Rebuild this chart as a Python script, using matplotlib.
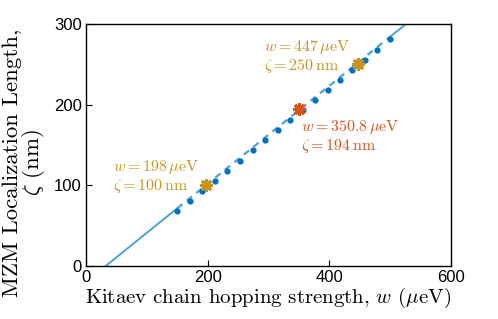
import matplotlib
matplotlib.use('Agg')
import matplotlib.pyplot as plt

plt.rcParams['mathtext.fontset'] = 'cm'
plt.rcParams['axes.unicode_minus'] = False

# data points (w in ueV, zeta in nm)
w_pts = [150, 171, 191, 212, 232, 253, 274, 294, 315, 335, 356, 376, 397, 418, 438, 459, 479, 500]
zeta_pts = [68, 80.5, 93, 105.5, 118, 130.5, 143, 155.5, 168, 180.5, 193, 205.5, 218, 230.5, 243, 255.5, 268, 281]

# linear fit line, split into solid / dashed / solid
fit_w = [33, 150, 500, 560]
fit_zeta = [0, 71.2, 284.2, 320.7]

# highlighted points
mark_w = [198, 350.8, 447]
mark_zeta = [100, 194, 250]

blue_dot = '#0072BD'
blue_line = '#4DA3D8'
gold = '#C8961E'
red = '#D95319'

fig = plt.figure(figsize=(4.98, 3.19), dpi=100)
ax = fig.add_axes([0.1727, 0.1672, 0.7329, 0.7576])

ax.plot(fit_w[0:2], fit_zeta[0:2], '-', color=blue_line, lw=1.4)
ax.plot(fit_w[1:3], fit_zeta[1:3], '--', color=blue_line, lw=1.6, dashes=(3, 2.5))
ax.plot(fit_w[2:4], fit_zeta[2:4], '-', color=blue_line, lw=1.4)
ax.plot(w_pts, zeta_pts, 'o', color=blue_dot, ms=4.5, mew=0)

ast = (8, 2, 0)
ax.plot(mark_w[0], mark_zeta[0], marker=ast, color=gold, ms=9, mew=2.2)
ax.plot(mark_w[2], mark_zeta[2], marker=ast, color=gold, ms=9, mew=2.2)
ax.plot(mark_w[1], mark_zeta[1], marker=ast, color=red, ms=9, mew=2.2)

ax.text(44, 111, r'$w = 198\,\mu\mathrm{eV}$' + '\n' + r'$\zeta = 100\,\mathrm{nm}$',
        color=gold, fontsize=11.5, va='center', ha='left', linespacing=1.1)
ax.text(292, 260, r'$w = 447\,\mu\mathrm{eV}$' + '\n' + r'$\zeta = 250\,\mathrm{nm}$',
        color=gold, fontsize=11.5, va='center', ha='left', linespacing=1.1)
ax.text(353, 160, r'$w = 350.8\,\mu\mathrm{eV}$' + '\n' + r'$\zeta = 194\,\mathrm{nm}$',
        color=red, fontsize=11.5, va='center', ha='left', linespacing=1.1)

ax.set_xlim(0, 600)
ax.set_ylim(0, 300)
ax.set_xticks([0, 200, 400, 600])
ax.set_yticks([0, 100, 200, 300])
ax.tick_params(direction='in', length=4, width=0.8, labelsize=12, pad=3)
for lab in ax.get_xticklabels() + ax.get_yticklabels():
    lab.set_family('Liberation Sans')
for s in ax.spines.values():
    s.set_linewidth(1.0)

ax.set_xlabel(r'Kitaev chain hopping strength, $w$ ($\mu$eV)', family='cmr10', fontsize=15, labelpad=1)
ax.set_ylabel('MZM Localization Length,\n' + r'$\zeta$ (nm)', family='cmr10', fontsize=16.5, linespacing=0.86)
ax.yaxis.set_label_coords(-0.108, 0.425)

fig.savefig('out.png', dpi=100)
